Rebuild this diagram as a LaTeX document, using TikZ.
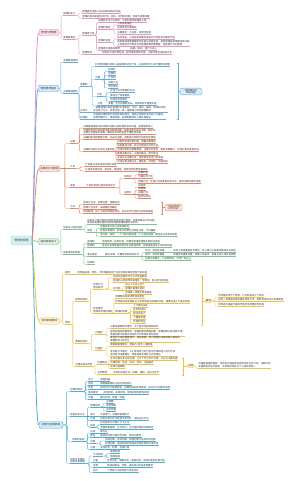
\documentclass[tikz,border=0pt]{standalone}
\usepackage{fontspec}
\newfontfamily\cjk{Noto Sans CJK SC}
\usetikzlibrary{calc}
\definecolor{txt}{HTML}{333333}
\definecolor{pkL}{HTML}{E597C6}\definecolor{pkF}{HTML}{FADDEE}
\definecolor{blL}{HTML}{5FAEE3}\definecolor{blF}{HTML}{D6EAF8}
\definecolor{orL}{HTML}{E8866A}\definecolor{orF}{HTML}{FBE2DA}
\definecolor{gnL}{HTML}{7CC490}\definecolor{gnF}{HTML}{DEF2E4}
\definecolor{ywL}{HTML}{F3C040}\definecolor{ywF}{HTML}{FDF1D2}
\definecolor{cyL}{HTML}{4DAFD8}\definecolor{cyF}{HTML}{CFEAF6}
\definecolor{rtF}{HTML}{D5EEF2}\definecolor{rtL}{HTML}{9ED5DF}
\tikzset{
 tp/.style={anchor=south west, inner xsep=0.2pt, inner ysep=0.25pt, font=\cjk\fontsize{2.4}{2.8}\selectfont, text=txt, align=left},
 ul/.style={line width=0.4pt},
 cnx/.style={line width=0.4pt, rounded corners=1.2pt},
 elbow/.style={to path={let \p1=(\tikztostart), \p2=(\tikztotarget) in -- ({0.5*\x1+0.5*\x2},\y1) |- (\tikztotarget)}},
 mainbox/.style={rounded corners=1.5pt, line width=0.4pt, minimum width=20pt, minimum height=6.5pt, inner sep=0.6pt, font=\cjk\fontsize{2.6}{3}\selectfont, text=txt},
 brl/.style={line width=0.8pt},
 sumbox/.style={rounded corners=1.5pt, line width=0.4pt, inner sep=0.8pt, font=\cjk\fontsize{2.4}{2.8}\selectfont, text=txt, align=center},
 brk/.style={line width=0.4pt}
}
\newcommand\Tp[5]{\node[tp] (#1) at (#2,#3) {#5}; \draw[#4,ul] (#1.south west) -- (#1.south east);}
\newcommand\Cn[3]{\draw[#1,cnx] (#2.south east) to[elbow] (#3.south west);}
\newcommand\Cs[3]{\draw[#1,cnx] (#2.south east) -- (#3.south west);}
\newcommand\Cb[3]{\draw[#1,cnx] (#2.east) to[elbow] (#3.south west);}
\begin{document}
\begin{tikzpicture}[x=1pt,y=-1pt]
\useasboundingbox (0,0) rectangle (300,481);
\fill[white] (0,0) rectangle (300,481);

% root
\node[draw=rtL, fill=rtF, rounded corners=1.5pt, line width=0.4pt, minimum width=21pt, minimum height=9pt, inner sep=0.6pt, font=\cjk\fontsize{2.8}{3}\selectfont, text=txt] (root) at (21.5,240.5) {管理学原理};

% ===== PINK =====
\node[mainbox, draw=pkL, fill=pkF] (B1) at (49,32.5) {管理与管理者};
\Tp{p1}{63}{15.5}{pkL}{管理的定义}
\Tp{p1a}{82}{13}{pkL}{管理是协调他人活动实现目标的过程}
\Tp{p1b}{82}{18}{pkL}{管理的基本职能包括计划、组织、领导和控制，效率与效果并重}
\Tp{p2}{63}{39}{pkL}{管理者角色}
\Tp{p2a}{82}{35}{pkL}{管理者分类}
\Tp{p2a1}{98}{22}{pkL}{按照层次可分为高层、中层和基层管理者三类}
\Tp{p2a2}{98}{29}{pkL}{管理的角色}
\Tp{p2a2a}{117}{25}{pkL}{人际关系角色}
\Tp{p2a2b}{117}{29.5}{pkL}{信息传递方面角色}
\Tp{p2a2c}{117}{34}{pkL}{决策角色：企业家、资源分配者}
\Tp{p2a3}{98}{42.5}{pkL}{管理的技能}
\Tp{p2a3a}{117}{39}{pkL}{技术技能、人际技能和概念技能对不同层次的要求不同}
\Tp{p2a3b}{117}{46}{pkL}{高层管理者更需要概念技能以把握全局，基层管理者更需要技术技能\\人际技能对所有层次的管理者都同等重要，是管理工作的基础}
\Tp{p2a4}{98}{50}{pkL}{管理者应具备的素质}
\Tp{p2a4a}{130}{50}{pkL}{品德、知识、能力与身心}
\Tp{p2b}{82}{54}{pkL}{管理环境}
\Tp{p2b1}{102}{54}{pkL}{组织的外部环境包括一般环境和具体环境，内部环境包括组织文化}
\Cb{pkL}{B1}{p1}\Cb{pkL}{B1}{p2}
\Cn{pkL}{p1}{p1a}\Cn{pkL}{p1}{p1b}
\Cn{pkL}{p2}{p2a}\Cn{pkL}{p2}{p2b}
\Cn{pkL}{p2a}{p2a1}\Cn{pkL}{p2a}{p2a2}\Cn{pkL}{p2a}{p2a3}\Cn{pkL}{p2a}{p2a4}
\Cn{pkL}{p2a2}{p2a2a}\Cs{pkL}{p2a2}{p2a2b}\Cn{pkL}{p2a2}{p2a2c}
\Cn{pkL}{p2a3}{p2a3a}\Cn{pkL}{p2a3}{p2a3b}
\Cs{pkL}{p2a4}{p2a4a}\Cs{pkL}{p2b}{p2b1}

% ===== BLUE =====
\node[mainbox, draw=blL, fill=blF] (B2) at (48.5,88.5) {管理思想演变};
\Tp{b1}{63}{62}{blL}{早期管理思想}
\Tp{b2}{63}{93.5}{blL}{古典管理理论}
\Tp{b2a}{80}{86.5}{blL}{泰勒制}
\Tp{b2a1}{95}{66.5}{blL}{科学管理理论的核心是提高劳动生产率，主张用科学方法代替经验管理}
\Tp{b2a2}{95}{79.5}{blL}{内容}
\Tp{b2a2a}{108}{71.5}{blL}{标准化}
\Tp{b2a2b}{108}{75.5}{blL}{定额制}
\Tp{b2a2c}{108}{79.5}{blL}{计件制}
\Tp{b2a2d}{108}{84}{blL}{职能工长}
\Tp{b2a2e}{108}{88}{blL}{例外原则}
\Tp{b2a3}{97}{96.5}{blL}{评价}
\Tp{b2a3a}{110}{92.5}{blL}{开创了科学管理的先河}
\Tp{b2a3b}{110}{97}{blL}{推动生产效率提高}
\Tp{b2a3c}{110}{101.5}{blL}{忽视社会性需求}
\Tp{b2a4}{97}{105.5}{blL}{人物}
\Tp{b2a41}{108}{105.5}{blL}{泰勒、吉尔布雷斯夫妇、甘特等科学管理先驱}
\Tp{b2b}{80}{112}{blL}{法约尔}
\Tp{b2b1}{93}{112}{blL}{一般管理理论提出管理的五项职能：计划、组织、指挥、协调和控制，\\并总结了分工、权责对等、统一指挥等十四条管理原则}
\Tp{b2c}{80}{119}{blL}{科层制}
\Tp{b2c1}{93}{119}{blL}{韦伯提出理想的行政组织体系理论，强调以合理合法的权力为基础，\\具有明确分工、等级制度、规章制度和非人格化等特征}
\Cb{blL}{B2}{b1}\Cb{blL}{B2}{b2}
\Cn{blL}{b2}{b2a}\Cn{blL}{b2}{b2b}\Cn{blL}{b2}{b2c}
\Cn{blL}{b2a}{b2a1}\Cn{blL}{b2a}{b2a2}\Cn{blL}{b2a}{b2a3}\Cn{blL}{b2a}{b2a4}
\Cn{blL}{b2a2}{b2a2a}\Cn{blL}{b2a2}{b2a2b}\Cs{blL}{b2a2}{b2a2c}\Cn{blL}{b2a2}{b2a2d}\Cn{blL}{b2a2}{b2a2e}
\Cn{blL}{b2a3}{b2a3a}\Cs{blL}{b2a3}{b2a3b}\Cn{blL}{b2a3}{b2a3c}
\Cs{blL}{b2a4}{b2a41}\Cs{blL}{b2b}{b2b1}\Cs{blL}{b2c}{b2c1}
\node[sumbox, draw=blL, fill=blF, minimum width=22pt] (s2) at (191,91.5) {管理理论的\\演进过程};
\coordinate (k2a) at (176.5,63);\coordinate (k2b) at (176.5,119.5);\coordinate (k2m) at (178,91.5);
\draw[blL,brk] (k2a) -- ++(1.5,0) |- (k2b);
\draw[blL,brk] (k2m) -- (s2.west);

% ===== ORANGE =====
\node[mainbox, draw=orL, fill=orF] (B3) at (49.5,168.5) {决策与计划职能};
\Tp{o1}{70}{143.5}{orL}{决策}
\Tp{o1a}{83}{128}{orL}{决策是管理者识别并解决问题以及利用机会的过程，是管理的核心}
\Tp{o1b}{83}{134.5}{orL}{决策的类型包括长期决策与短期决策、战略决策与战术决策、程序化\\决策与非程序化决策、确定型与风险型及不确定型决策}
\Tp{o1c}{83}{139.5}{orL}{决策的影响因素有环境、过去的决策、决策者对风险的态度及伦理观}
\Tp{o1d}{83}{151.5}{orL}{决策的过程与方法的主要内容}
\Tp{o1d1}{117}{143}{orL}{识别机会或诊断问题，明确决策目标}
\Tp{o1d2}{117}{147}{orL}{拟定备选方案，并对方案进行评价比较}
\Tp{o1d3}{117}{151.5}{orL}{选择方案时应统筹兼顾，注意反对意见，要有决断魄力，实施方案并监督评估}
\Tp{o1d4}{117}{155.5}{orL}{集体决策方法：头脑风暴法、德尔菲法}
\Tp{o1d5}{117}{159.5}{orL}{活动方向决策方法：经营单位组合分析法等}
\Tp{o1d6}{117}{163.5}{orL}{活动方案决策方法：确定型、风险型、不确定型}
\Tp{o2}{70}{168.5}{orL}{计划}
\Tp{o2a}{85}{166.5}{orL}{计划是对未来活动的预先安排}
\Tp{o2b}{85}{171}{orL}{计划具有目的性、首位性、普遍性、效率性和创新性等特征}
\Tp{o3}{70}{187.5}{orL}{类型}
\Tp{o3a}{86}{187.5}{orL}{计划的类型与层次体系划分}
\Tp{o3a1}{124}{178.5}{orL}{按时间}
\Tp{o3a1a}{138}{174.5}{orL}{长期计划}
\Tp{o3a1b}{138}{178.5}{orL}{中期业务计划}
\Tp{o3a1c}{138}{183}{orL}{短期计划：年度计划及季度月度计划，具体详细可操作性强}
\Tp{o3a2}{124}{194.5}{orL}{按层次}
\Tp{o3a2a}{138}{187}{orL}{宗旨类}
\Tp{o3a2b}{138}{190.5}{orL}{目标类}
\Tp{o3a2c}{138}{194.5}{orL}{战略计划}
\Tp{o3a2d}{138}{198.5}{orL}{程序与规划}
\Tp{o4}{70}{208.5}{orL}{方法}
\Tp{o4a}{83}{204.5}{orL}{滚动计划法：近细远粗，逐期滚动}
\Tp{o4b}{83}{209}{orL}{网络计划技术：关键路径的确定}
\Tp{o4c}{83}{213.5}{orL}{目标管理：由上下级共同制定目标，并以此作为考核与奖惩的依据}
\Cb{orL}{B3}{o1}\draw[orL,cnx] (B3.east) -- (o2.south west);\Cb{orL}{B3}{o3}\Cb{orL}{B3}{o4}
\Cn{orL}{o1}{o1a}\Cn{orL}{o1}{o1b}\Cn{orL}{o1}{o1c}\Cn{orL}{o1}{o1d}
\Cn{orL}{o1d}{o1d1}\Cn{orL}{o1d}{o1d2}\Cs{orL}{o1d}{o1d3}\Cn{orL}{o1d}{o1d4}\Cn{orL}{o1d}{o1d5}\Cn{orL}{o1d}{o1d6}
\Cn{orL}{o2}{o2a}\Cn{orL}{o2}{o2b}
\Cs{orL}{o3}{o3a}\Cn{orL}{o3a}{o3a1}\Cn{orL}{o3a}{o3a2}
\Cn{orL}{o3a1}{o3a1a}\Cs{orL}{o3a1}{o3a1b}\Cn{orL}{o3a1}{o3a1c}
\Cn{orL}{o3a2}{o3a2a}\Cn{orL}{o3a2}{o3a2b}\Cs{orL}{o3a2}{o3a2c}\Cn{orL}{o3a2}{o3a2d}
\Cn{orL}{o4}{o4a}\Cs{orL}{o4}{o4b}\Cn{orL}{o4}{o4c}
\node[sumbox, draw=orL, fill=orF, minimum width=17pt] (s3) at (173.5,207.5) {计划的常用\\技术方法};
\coordinate (k3a) at (160.5,202);\coordinate (k3b) at (160.5,214);\coordinate (k3m) at (162,207.5);
\draw[orL,brk] (k3a) -- ++(1.5,0) |- (k3b);
\draw[orL,brk] (k3m) -- (s3.west);

% ===== GREEN =====
\node[mainbox, draw=gnL, fill=gnF] (B4) at (48.5,241.5) {组织结构设计};
\Tp{g1}{63}{229.5}{gnL}{组织设计及其任务}
\Tp{g1a}{87}{224.5}{gnL}{组织设计是对组织的结构和活动进行创构、变革和再设计的过程，\\其任务是提供组织结构系统图和编制职务说明书}
\Tp{g1b}{87}{232.5}{gnL}{原则}
\Tp{g1b1}{100}{228.5}{gnL}{因事设职与因人设职相结合}
\Tp{g1b2}{100}{232.5}{gnL}{权责对等原则：职权与职责必须相互对等，不可偏废}
\Tp{g1b3}{100}{236.5}{gnL}{命令统一原则：一个下级只能接受一个上级的指挥，避免多头领导的现象}
\Tp{g2}{63}{254.5}{gnL}{组织结构的类型}
\Tp{g2a}{87}{243.5}{gnL}{直线制}
\Tp{g2a1}{102}{243.5}{gnL}{结构简单、权责分明，但要求管理者通晓多种知识技能}
\Tp{g2b}{87}{247.5}{gnL}{职能制}
\Tp{g2b1}{102}{247.5}{gnL}{能充分发挥职能机构的专业管理作用，但容易造成多头领导的问题}
\Tp{g2c}{87}{256.5}{gnL}{事业部制}
\Tp{g2c1}{105}{256.5}{gnL}{集中决策、分散经营的组织形式}
\Tp{g2c1a}{145}{252.5}{gnL}{优点：适应性较强}
\Tp{g2c1a1}{173}{252.5}{gnL}{有利于高层摆脱日常事务，专心致力于战略决策和长远规划}
\Tp{g2c1b}{145}{256.5}{gnL}{缺点：机构较重叠}
\Tp{g2c1b1}{173}{256.5}{gnL}{职能机构重复设置，管理人员增多，各事业部之间协调困难}
\Tp{g2c1c}{145}{260.5}{gnL}{适用于规模大、产品种类多、市场广的企业}
\Tp{g2d}{87}{264.5}{gnL}{矩阵制}
\Cb{gnL}{B4}{g1}\Cb{gnL}{B4}{g2}
\Cn{gnL}{g1}{g1a}\Cn{gnL}{g1}{g1b}
\Cn{gnL}{g1b}{g1b1}\Cs{gnL}{g1b}{g1b2}\Cn{gnL}{g1b}{g1b3}
\Cn{gnL}{g2}{g2a}\Cn{gnL}{g2}{g2b}\Cn{gnL}{g2}{g2c}\Cn{gnL}{g2}{g2d}
\Cs{gnL}{g2a}{g2a1}\Cs{gnL}{g2b}{g2b1}\Cs{gnL}{g2c}{g2c1}
\Cn{gnL}{g2c1}{g2c1a}\Cs{gnL}{g2c1}{g2c1b}\Cn{gnL}{g2c1}{g2c1c}
\Cs{gnL}{g2c1a}{g2c1a1}\Cs{gnL}{g2c1b}{g2c1b1}

% ===== YELLOW =====
\node[mainbox, draw=ywL, fill=ywF] (B5) at (49.5,321) {领导职能概述};
\Tp{y1}{65}{274}{ywL}{概念}
\Tp{y1a}{77}{274}{ywL}{领导是指挥、带领、引导和鼓励部下为实现组织目标而努力的过程}
\Tp{y2}{65}{324.5}{ywL}{理论}
\Tp{y2a}{75}{301.5}{ywL}{领导的理论}
\Tp{y2a1}{93}{289}{ywL}{领导行为\\理论研究}
\Tp{y2a1a}{113}{277.8}{ywL}{研究领导者的行为方式及其影响}
\Tp{y2a1b}{113}{282}{ywL}{勒温的三种领导风格理论：专制型、民主型与放任型}
\Tp{y2a1c}{113}{290}{ywL}{四分图}
\Tp{y2a1c1}{125}{286}{ywL}{关心人与关心生产}
\Tp{y2a1c2}{125}{290}{ywL}{管理方格理论研究}
\Tp{y2a1c3}{125}{294}{ywL}{连续统一体理论及其模型}
\Tp{y2a2}{93}{313}{ywL}{权变理论\\情境领导理论模型}
\Tp{y2a2a}{115}{298.5}{ywL}{菲德勒的权变领导理论模型}
\Tp{y2a2b}{115}{303}{ywL}{领导者的有效性取决于领导风格与情境的匹配，情境包括上下级关系等}
\Tp{y2a2c}{115}{313}{ywL}{情境的因素}
\Tp{y2a2c1}{133}{307.5}{ywL}{上下级的关系}
\Tp{y2a2c2}{133}{311.5}{ywL}{任务的结构}
\Tp{y2a2c3}{133}{315.5}{ywL}{职位的权力}
\Tp{y2a2c4}{133}{319.5}{ywL}{下属成熟度}
\Tp{y2a2c5}{133}{323.5}{ywL}{环境的特征}
\Tp{y2b}{75}{343.5}{ywL}{激励的理论}
\Tp{y2b1}{95}{334.5}{ywL}{内容型}
\Tp{y2b1a}{110}{328.5}{ywL}{马斯洛需要层次理论：五个层次由低到高排列}
\Tp{y2b1b}{110}{336}{ywL}{赫茨伯格双因素理论：保健因素和激励因素，保健因素只能消除不满，\\激励因素才能真正调动员工的积极性和创造性}
\Tp{y2b1c}{110}{342}{ywL}{麦克利兰成就需要理论：成就需要、权力需要和归属需要三种基本\\需要影响人的行为}
\Tp{y2b2}{95}{350.5}{ywL}{过程型}
\Tp{y2b2a}{110}{346.5}{ywL}{弗鲁姆期望理论：激励力=效价×期望值}
\Tp{y2b2b}{110}{356}{ywL}{亚当斯公平理论：人们会将自己的付出与所得和他人进行比较，\\洛克目标设置理论、斯金纳强化理论与归因理论}
\Tp{y2c}{75}{366.5}{ywL}{沟通过程与类型}
\Tp{y2c1}{97}{364.5}{ywL}{沟通类型}
\Tp{y2c1a}{110}{360.5}{ywL}{正式沟通与非正式沟通、上行下行与平行沟通、口头与书面沟通}
\Tp{y2c1b}{110}{364.5}{ywL}{沟通网络：链式、轮式、环式、全通道式}
\Tp{y2c1c}{110}{368.5}{ywL}{有效沟通障碍}
\Tp{y2c2}{97}{374}{ywL}{冲突管理}
\Tp{y2c2a}{113}{374}{ywL}{冲突的处理方式：回避、强制、妥协与合作}
\Cb{ywL}{B5}{y1}\Cb{ywL}{B5}{y2}
\Cs{ywL}{y1}{y1a}
\Cn{ywL}{y2}{y2a}\Cn{ywL}{y2}{y2b}\Cn{ywL}{y2}{y2c}
\Cn{ywL}{y2a}{y2a1}\Cn{ywL}{y2a}{y2a2}
\Cn{ywL}{y2a1}{y2a1a}\Cn{ywL}{y2a1}{y2a1b}\Cs{ywL}{y2a1}{y2a1c}
\Cn{ywL}{y2a1c}{y2a1c1}\Cs{ywL}{y2a1c}{y2a1c2}\Cn{ywL}{y2a1c}{y2a1c3}
\Cn{ywL}{y2a2}{y2a2a}\Cn{ywL}{y2a2}{y2a2b}\Cs{ywL}{y2a2}{y2a2c}
\Cn{ywL}{y2a2c}{y2a2c1}\Cs{ywL}{y2a2c}{y2a2c2}\Cs{ywL}{y2a2c}{y2a2c3}\Cn{ywL}{y2a2c}{y2a2c4}\Cn{ywL}{y2a2c}{y2a2c5}
\Cn{ywL}{y2b}{y2b1}\Cn{ywL}{y2b}{y2b2}
\Cn{ywL}{y2b1}{y2b1a}\Cn{ywL}{y2b1}{y2b1b}\Cn{ywL}{y2b1}{y2b1c}
\Cn{ywL}{y2b2}{y2b2a}\Cn{ywL}{y2b2}{y2b2b}
\Cs{ywL}{y2c}{y2c1}\Cn{ywL}{y2c}{y2c2}
\Cn{ywL}{y2c1}{y2c1a}\Cs{ywL}{y2c1}{y2c1b}\Cn{ywL}{y2c1}{y2c1c}
\Cs{ywL}{y2c2}{y2c2a}
\node[sumbox, draw=ywL, fill=ywF] (s5a) at (208.5,301) {要点};
\coordinate (k5a) at (200.5,276);\coordinate (k5b) at (200.5,325);\coordinate (k5m) at (202,301);
\draw[ywL,brk] (k5a) -- ++(1.5,0) |- (k5b);
\draw[ywL,brk] (k5m) -- (s5a.west);
\Tp{ys1}{218}{297}{ywL}{领导理论经历了特质、行为和权变三个阶段}
\Tp{ys2}{218}{301.5}{ywL}{没有一种普遍适用的最佳领导方式，有效领导取决于具体情境}
\Tp{ys3}{218}{306}{ywL}{领导者应根据下属和环境灵活调整领导风格}
\draw[ywL,cnx] (s5a.east) to[elbow] (ys1.south west);
\draw[ywL,cnx] (s5a.east) -- (ys2.south west);
\draw[ywL,cnx] (s5a.east) to[elbow] (ys3.south west);
\node[sumbox, draw=ywL, fill=ywF] (s5b) at (190.5,366) {小结};
\coordinate (k5c) at (181.5,358.5);\coordinate (k5d) at (181.5,375);\coordinate (k5n) at (183,366);
\draw[ywL,brk] (k5c) -- ++(1.5,0) |- (k5d);
\draw[ywL,brk] (k5n) -- (s5b.west);
\Tp{ys4}{198}{368.5}{ywL}{沟通是管理的基础，有效的沟通能够协调组织各方的行动，化解冲突\\并提高组织运行效率，实现组织目标与个人目标的统一}
\draw[ywL,cnx] (s5b.east) to[elbow] (ys4.south west);

% ===== CYAN =====
\node[mainbox, draw=cyL, fill=cyF, minimum width=24pt] (B6) at (51,425) {控制与创新职能};
\Tp{c1}{70}{391.5}{cyL}{控制的概述}
\Tp{c1a}{88}{381.5}{cyL}{含义}\Tp{c1a1}{100}{381.5}{cyL}{监督纠偏}
\Tp{c1b}{88}{385.5}{cyL}{目的}\Tp{c1b1}{100}{385.5}{cyL}{限制偏差累积与适应环境变化}
\Tp{c1c}{88}{389.5}{cyL}{类型}\Tp{c1c1}{100}{389.5}{cyL}{按时间分为前馈控制、同期控制和反馈控制；按方式分为集中控制}
\Tp{c1d}{88}{394.5}{cyL}{基本要求}\Tp{c1d1}{103}{394.5}{cyL}{适时控制、适度控制、客观控制和弹性控制}
\Tp{c1e}{88}{399.5}{cyL}{过程}\Tp{c1e1}{100}{399.5}{cyL}{确立标准、衡量、纠偏}
\Tp{c2}{70}{416.5}{cyL}{控制技术方法}
\Tp{c2a}{90}{407}{cyL}{预算控制}
\Tp{c2a1}{106}{403}{cyL}{总预算}
\Tp{c2a2}{106}{407}{cyL}{现金预算}
\Tp{c2a3}{106}{411}{cyL}{资本预算}
\Tp{c2b}{90}{416.5}{cyL}{审计}\Tp{c2b1}{100}{416.5}{cyL}{外部审计、内部和管理审计}
\Tp{c2c}{90}{420.5}{cyL}{比率}\Tp{c2c1}{100}{420.5}{cyL}{财务比率分析与经营比率分析，反映企业状况}
\Tp{c2d}{90}{427}{cyL}{其他}
\Tp{c2d1}{100}{424.5}{cyL}{标杆控制与平衡计分卡方法}
\Tp{c2d2}{100}{429}{cyL}{全面质量管理：全员参与、全过程控制和持续改进}
\Tp{c3}{72}{441.5}{cyL}{创新的职能}
\Tp{c3a}{90}{433}{cyL}{内涵}\Tp{c3a1}{100}{433}{cyL}{破与立}
\Tp{c3b}{90}{437}{cyL}{类型}\Tp{c3b1}{100}{437}{cyL}{渐进式创新与破坏性创新、局部与整体}
\Tp{c3c}{90}{443.5}{cyL}{内容}
\Tp{c3c1}{105}{441}{cyL}{目标创新、技术创新、制度创新与组织机构创新}
\Tp{c3c2}{105}{445.5}{cyL}{环境创新：通过积极的活动去改造环境和引导环境}
\Tp{c3d}{90}{449.5}{cyL}{过程}\Tp{c3d1}{100}{449.5}{cyL}{寻找机会、构想、迅速行动}
\Tp{c4}{70}{463.5}{cyL}{组织文化建设\\组织变革管理}
\Tp{c4a}{93}{456}{cyL}{文化结构}
\Tp{c4a1}{110}{453.5}{cyL}{精神层面}
\Tp{c4a2}{110}{458}{cyL}{制度层面}
\Tp{c4b}{93}{462.5}{cyL}{功能}\Tp{c4b1}{107}{462.5}{cyL}{导向功能、凝聚功能、激励功能、调适功能和约束功能}
\Tp{c4c}{93}{467.5}{cyL}{变革}\Tp{c4c1}{107}{467.5}{cyL}{勒温的解冻、变革、再冻结三阶段变革模型}
\Tp{c4d}{93}{472.5}{cyL}{阻力}\Tp{c4d1}{107}{472.5}{cyL}{个体阻力与团体阻力及其应对}
\Cb{cyL}{B6}{c1}\Cb{cyL}{B6}{c2}\Cb{cyL}{B6}{c3}\Cb{cyL}{B6}{c4}
\Cn{cyL}{c1}{c1a}\Cn{cyL}{c1}{c1b}\Cn{cyL}{c1}{c1c}\Cn{cyL}{c1}{c1d}\Cn{cyL}{c1}{c1e}
\Cs{cyL}{c1a}{c1a1}\Cs{cyL}{c1b}{c1b1}\Cs{cyL}{c1c}{c1c1}\Cs{cyL}{c1d}{c1d1}\Cs{cyL}{c1e}{c1e1}
\Cn{cyL}{c2}{c2a}\Cs{cyL}{c2}{c2b}\Cn{cyL}{c2}{c2c}\Cn{cyL}{c2}{c2d}
\Cn{cyL}{c2a}{c2a1}\Cs{cyL}{c2a}{c2a2}\Cn{cyL}{c2a}{c2a3}
\Cs{cyL}{c2b}{c2b1}\Cs{cyL}{c2c}{c2c1}
\Cn{cyL}{c2d}{c2d1}\Cn{cyL}{c2d}{c2d2}
\Cn{cyL}{c3}{c3a}\Cn{cyL}{c3}{c3b}\Cn{cyL}{c3}{c3c}\Cn{cyL}{c3}{c3d}
\Cs{cyL}{c3a}{c3a1}\Cs{cyL}{c3b}{c3b1}\Cn{cyL}{c3c}{c3c1}\Cn{cyL}{c3c}{c3c2}\Cs{cyL}{c3d}{c3d1}
\Cn{cyL}{c4}{c4a}\Cs{cyL}{c4}{c4b}\Cn{cyL}{c4}{c4c}\Cn{cyL}{c4}{c4d}
\Cn{cyL}{c4a}{c4a1}\Cn{cyL}{c4a}{c4a2}
\Cs{cyL}{c4b}{c4b1}\Cs{cyL}{c4c}{c4c1}\Cs{cyL}{c4d}{c4d1}

% ===== main branch lines =====
\draw[brl,pkL] (root.east) .. controls (35.5,136) and (35.5,32.5) .. (B1.west);
\draw[brl,blL] (root.east) .. controls (35.5,164.5) and (35.5,88.5) .. (B2.west);
\draw[brl,orL] (root.east) .. controls (35.5,204.5) and (35.5,168.5) .. (B3.west);
\draw[brl,gnL] (root.east) to[out=0,in=180] (B4.west);
\draw[brl,ywL] (root.east) .. controls (35.5,281) and (35.5,321) .. (B5.west);
\draw[brl,cyL] (root.east) .. controls (35.5,333) and (35.5,425) .. (B6.west);
\end{tikzpicture}
\end{document}
